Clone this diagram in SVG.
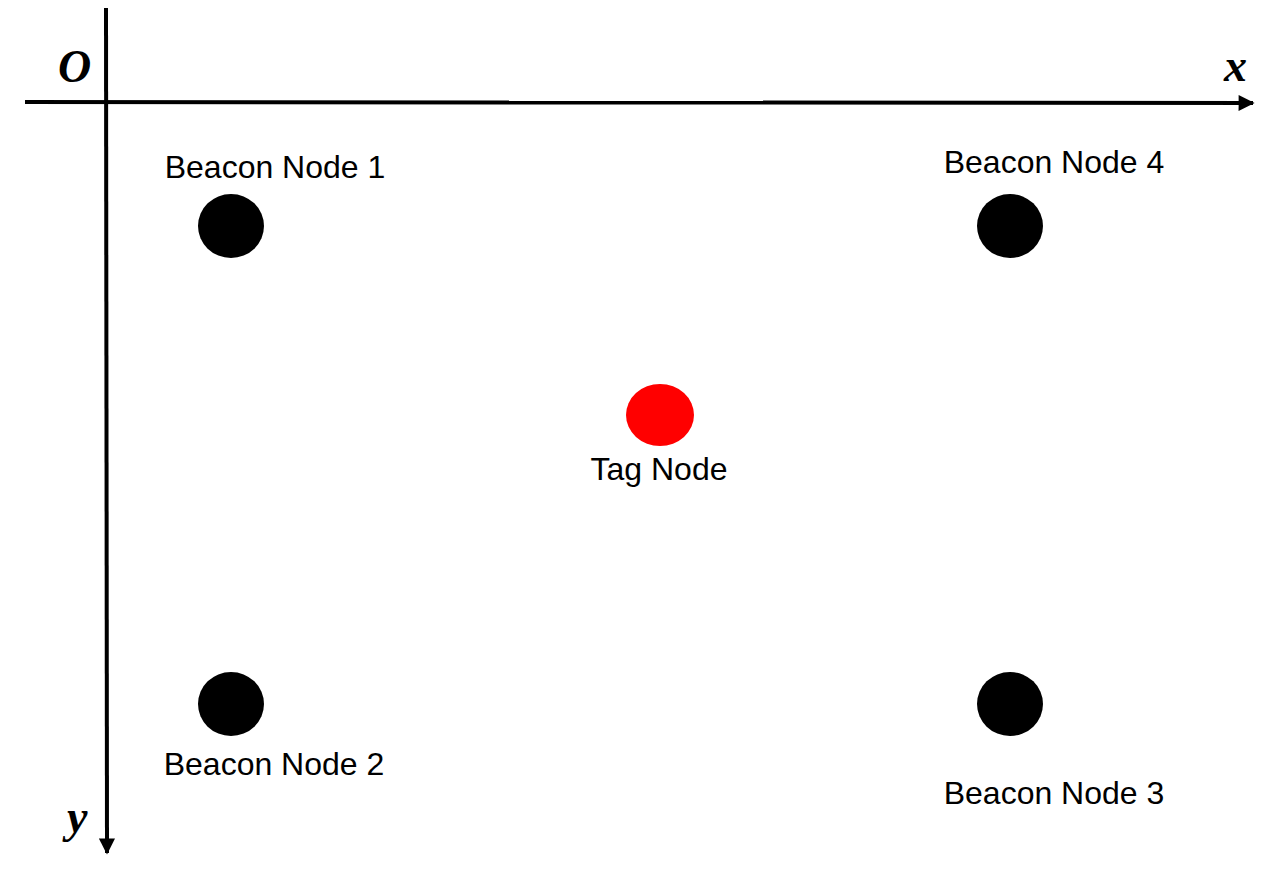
<svg xmlns="http://www.w3.org/2000/svg" width="1276" height="870" viewBox="0 0 1276 870">
<defs>
<style>
.lbl{font-family:"Liberation Sans",Arial,sans-serif;font-size:32px;fill:#000}
.ax{font-family:"Liberation Serif","Times New Roman",serif;font-size:46px;font-style:italic;font-weight:bold;fill:#000}
.axis{stroke:#000;stroke-width:4;fill:none}
.beacon{fill:#000}
.tag{fill:#ff0000}
</style>
<marker id="arr" viewBox="0 0 10 10" refX="9" refY="5" markerWidth="4.5" markerHeight="4" orient="auto" markerUnits="strokeWidth">
<path d="M0,0 L10,5 L0,10 z" fill="#000"/>
</marker>
</defs>
<rect width="1276" height="870" fill="#fff"/>
<g id="connectors">
<line class="axis" x1="25" y1="102" x2="1253" y2="103" marker-end="url(#arr)"/>
<line class="axis" x1="106" y1="8" x2="107" y2="853" marker-end="url(#arr)"/>
</g>
<g id="axis-labels">
<text class="ax" x="58" y="82">O</text>
<text class="ax" x="1224" y="81">x</text>
<text class="ax" x="67" y="832">y</text>
</g>
<g id="beacon1">
<ellipse class="beacon" cx="231" cy="226" rx="33" ry="32"/>
<text class="lbl" x="275" y="178" text-anchor="middle">Beacon Node 1</text>
</g>
<g id="beacon4">
<ellipse class="beacon" cx="1010" cy="226" rx="33" ry="32"/>
<text class="lbl" x="1054" y="173" text-anchor="middle">Beacon Node 4</text>
</g>
<g id="beacon2">
<ellipse class="beacon" cx="231" cy="704" rx="33" ry="32"/>
<text class="lbl" x="274" y="775" text-anchor="middle">Beacon Node 2</text>
</g>
<g id="beacon3">
<ellipse class="beacon" cx="1010" cy="704" rx="33" ry="32"/>
<text class="lbl" x="1054" y="804" text-anchor="middle">Beacon Node 3</text>
</g>
<g id="tag">
<ellipse class="tag" cx="660" cy="415" rx="34" ry="31"/>
<text class="lbl" x="659" y="480" text-anchor="middle">Tag Node</text>
</g>
</svg>
